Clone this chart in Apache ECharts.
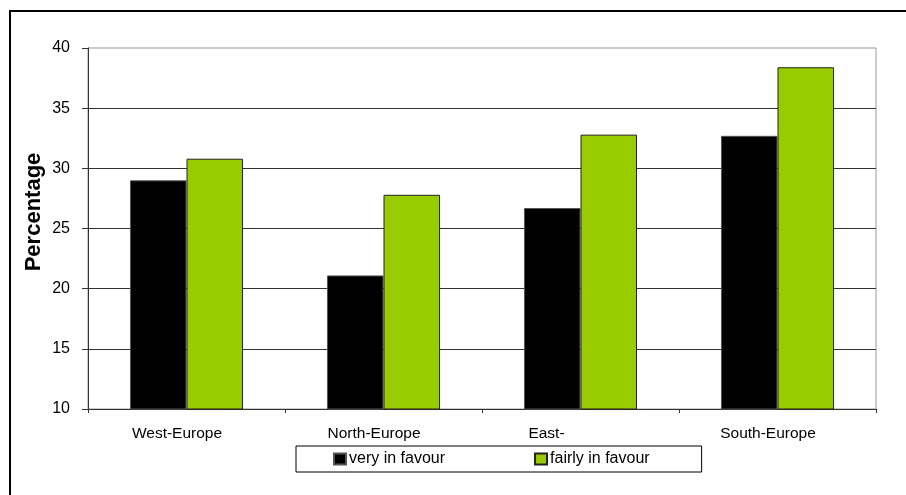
<!DOCTYPE html>
<html>
<head>
<meta charset="utf-8">
<script src="https://cdn.jsdelivr.net/npm/echarts@6/dist/echarts.min.js"></script>
<style>
html,body{margin:0;padding:0;background:#fff;}
#chart{width:906px;height:495px;}
</style>
</head>
<body>
<div id="chart"></div>
<script>
const categories = ["West-Europe", "North-Europe", "East-", "South-Europe"];
const veryInFavour = [29.0, 21.1, 26.7, 32.7];
const fairlyInFavour = [30.8, 27.8, 32.8, 38.4];
const seriesNames = ["very in favour", "fairly in favour"];
const yTicks = { min: 10, max: 40, interval: 5 };
const yTitle = 'Percentage';

const FONT = 'Arial, "Liberation Sans", sans-serif';
const chart = echarts.init(document.getElementById('chart'), null, { renderer: 'canvas' });

chart.setOption({
  animation: false,
  backgroundColor: '#fff',
  graphic: [{
    type: 'rect',
    shape: { x: 10, y: 11, width: 1000, height: 1000 },
    style: { fill: 'none', stroke: '#000', lineWidth: 2 },
    z: 100
  }, {
    type: 'text',
    x: 34, y: 212,
    rotation: Math.PI / 2,
    style: {
      text: yTitle, fill: '#000',
      font: 'bold 22px ' + FONT,
      align: 'center', verticalAlign: 'middle'
    },
    z: 100
  }],
  grid: {
    left: 88, top: 48, right: 30, bottom: 86,
    show: true, borderColor: '#999', borderWidth: 1, backgroundColor: 'transparent'
  },
  legend: {
    left: 296, top: 446,
    padding: [5, 52, 5, 37],
    borderColor: '#000', borderWidth: 1,
    itemGap: 89, itemWidth: 12, itemHeight: 11,
    icon: 'rect',
    textStyle: { fontFamily: FONT, fontSize: 16, color: '#000', padding: [0, 0, 0, -2] },
    data: seriesNames
  },
  xAxis: {
    type: 'category',
    data: categories,
    axisLine: { show: true, lineStyle: { color: '#333', width: 1 } },
    axisTick: { show: true, length: 4, lineStyle: { color: '#333' } },
    axisLabel: {
      margin: 17,
      fontFamily: FONT, fontSize: 15.5, color: '#000',
      padding: [0, 19, 0, 0],
      formatter: function (v) { return v === 'East-' ? '{e|' + v + '}' : v; },
      rich: { e: { fontFamily: FONT, fontSize: 15.5, color: '#000', padding: [0, 49, 0, 0] } }
    },
    splitLine: { show: false }
  },
  yAxis: {
    type: 'value',
    min: yTicks.min, max: yTicks.max, interval: yTicks.interval,
    axisLine: { show: true, lineStyle: { color: '#333', width: 1 } },
    axisTick: { show: true, length: 6, lineStyle: { color: '#333' } },
    axisLabel: { margin: 18, fontFamily: FONT, fontSize: 16, color: '#000' },
    splitLine: { show: true, showMaxLine: false, lineStyle: { color: '#333', width: 1 } }
  },
  series: [
    {
      name: seriesNames[0], type: 'bar', data: veryInFavour,
      barGap: '0%', barCategoryGap: '42.6%',
      itemStyle: { color: '#000', borderColor: '#555', borderWidth: 1 }
    },
    {
      name: seriesNames[1], type: 'bar', data: fairlyInFavour,
      barGap: '0%', barCategoryGap: '42.6%',
      itemStyle: { color: '#99CC00', borderColor: '#222', borderWidth: 1 }
    }
  ]
});
</script>
</body>
</html>
